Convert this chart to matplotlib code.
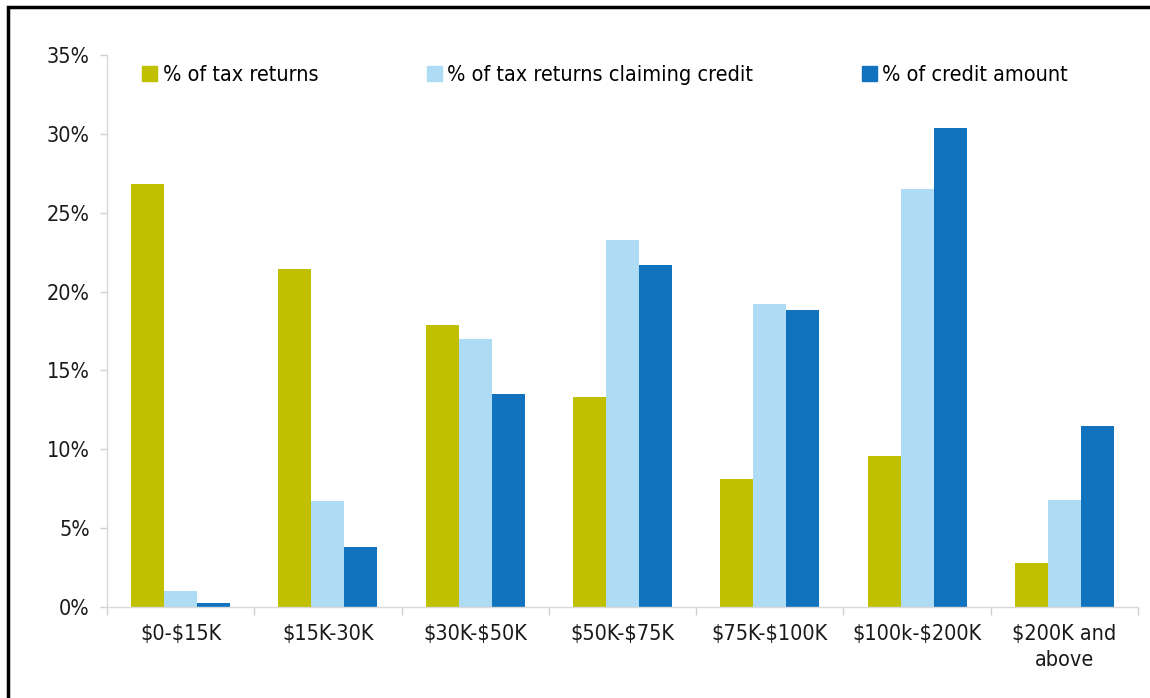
import matplotlib
matplotlib.use("Agg")
import matplotlib.pyplot as plt
from matplotlib.patches import Rectangle, Patch
from matplotlib.ticker import FuncFormatter, FixedLocator
import numpy as np

categories = ["$0-$15K", "$15K-30K", "$30K-$50K", "$50K-$75K",
              "$75K-$100K", "$100k-$200K", "$200K and\nabove"]
pct_returns = [26.8, 21.4, 17.9, 13.3, 8.1, 9.6, 2.8]
pct_claiming = [1.0, 6.7, 17.0, 23.3, 19.2, 26.5, 6.8]
pct_credit = [0.23, 3.8, 13.5, 21.7, 18.8, 30.4, 11.5]
series_names = ["% of tax returns", "% of tax returns claiming credit", "% of credit amount"]
colors = ["#c0c000", "#aedcf5", "#1173bd"]

plt.rcParams['font.family'] = ['DejaVu Sans']
plt.rcParams['font.stretch'] = 'condensed'
FS = 15.5

fig = plt.figure(figsize=(11.5, 6.98), dpi=100)
ax = fig.add_axes([107 / 1150, 91 / 698, 1031 / 1150, 552 / 698])

x = np.arange(len(categories))
w = 0.224
for i, vals in enumerate([pct_returns, pct_claiming, pct_credit]):
    ax.bar(x + (i - 1) * w, vals, width=w, color=colors[i], label=series_names[i])

ax.set_xlim(-0.5, len(categories) - 0.5)
ax.set_ylim(0, 35)
ax.set_yticks(range(0, 36, 5))
ax.yaxis.set_major_formatter(FuncFormatter(lambda v, p: f"{int(v)}%"))
ax.set_xticks(x)
ax.set_xticklabels(categories, fontsize=FS, color="#1a1a1a", linespacing=1.35,
                   parse_math=False)
ax.xaxis.set_minor_locator(FixedLocator(np.arange(-0.5, len(categories), 1.0)))
ax.tick_params(axis="x", which="major", length=0, pad=12.5)
ax.tick_params(axis="x", which="minor", length=6, color="#d0d0d0", width=1)
ax.tick_params(axis="y", length=5, color="#d0d0d0", width=1, labelsize=FS,
               labelcolor="#1a1a1a", pad=7.5)
for s in ["top", "right"]:
    ax.spines[s].set_visible(False)
for s in ["left", "bottom"]:
    ax.spines[s].set_color("#d9d9d9")
    ax.spines[s].set_linewidth(1)

handles = [Patch(color=c) for c in colors]
ax.legend(handles, series_names, loc="center left", bbox_to_anchor=(0.034, 0.964),
          ncol=3, frameon=False, fontsize=FS, handlelength=0.7, handleheight=0.7,
          handletextpad=0.25, columnspacing=5.05, borderpad=0, borderaxespad=0)

# outer frame (left and top edges visible)
fig.patches.append(Rectangle((8 / 1150, -0.5), 2.0, 0.5 + 1 - 7 / 698,
                             transform=fig.transFigure, fill=False,
                             edgecolor="black", linewidth=2.5))

fig.savefig("out.png", dpi=100)
